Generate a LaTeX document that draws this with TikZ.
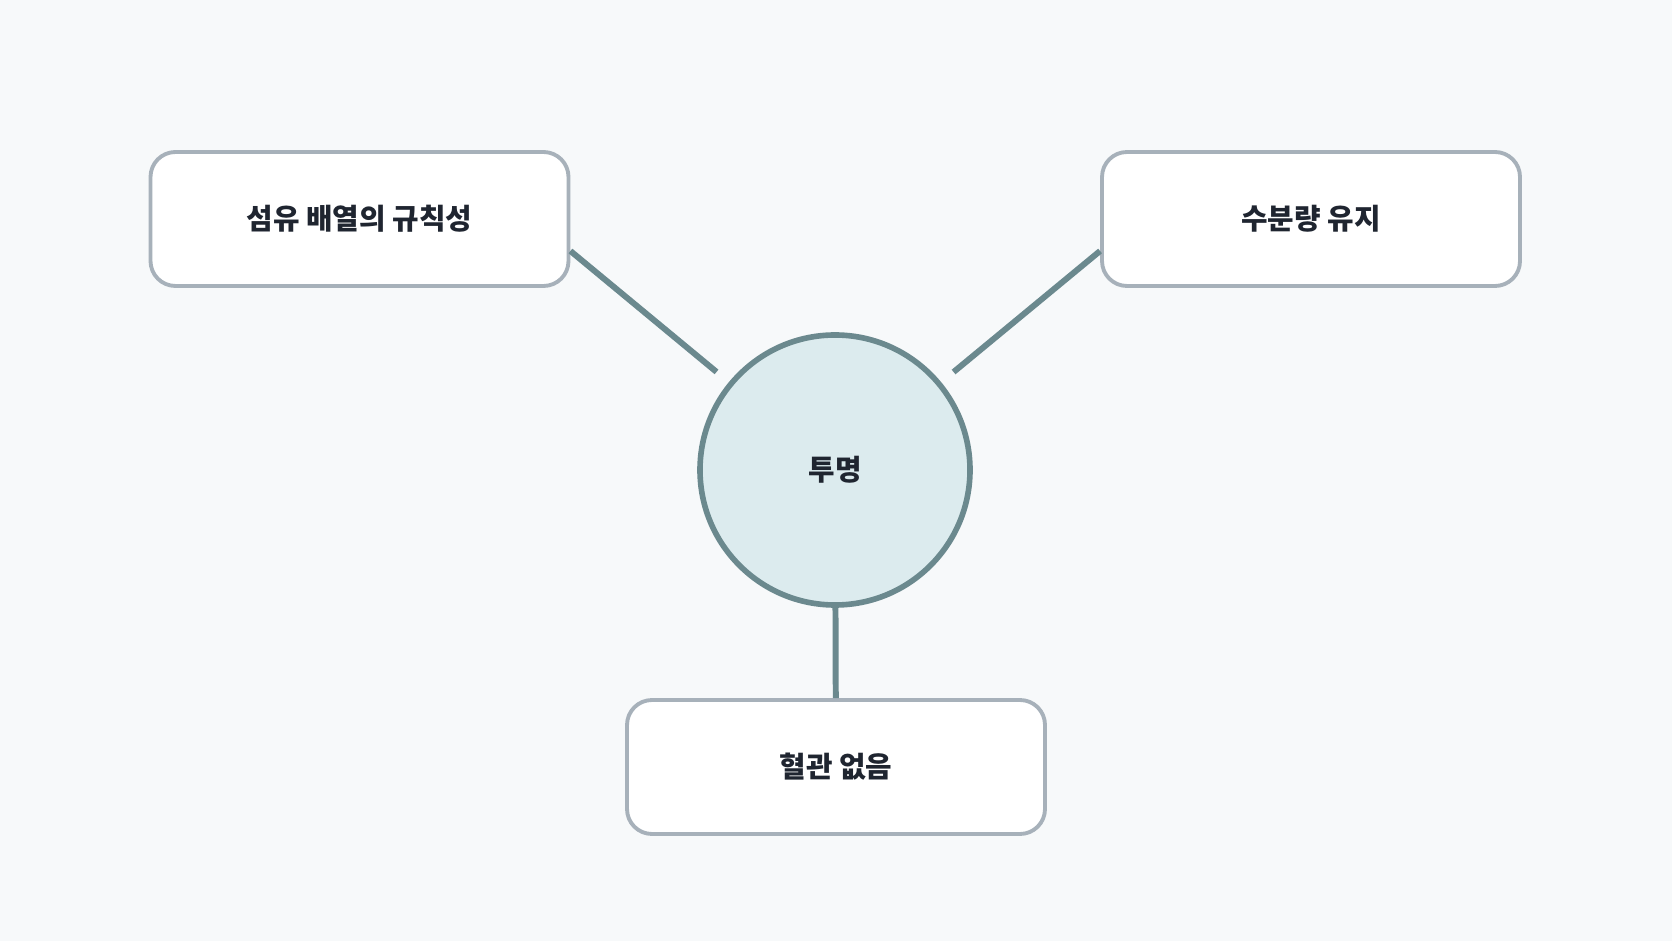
\documentclass[tikz,border=0pt]{standalone}
\usepackage{fontspec}
\newfontfamily\krfont{Noto Sans CJK KR}
\usetikzlibrary{positioning}
\definecolor{bgcol}{HTML}{F7F9FA}
\definecolor{boxline}{HTML}{A7B1BA}
\definecolor{linkcol}{HTML}{6B898E}
\definecolor{hubfill}{HTML}{DCEBEE}
\definecolor{txtcol}{HTML}{1F2530}
\tikzset{
	factor/.style={draw=boxline, line width=1.1pt, fill=white, rounded corners=0.25cm,
		minimum width=4.18cm, minimum height=1.34cm, font=\krfont\bfseries\fontsize{8.2}{10}\selectfont, text=txtcol},
	hub/.style={circle, draw=linkcol, line width=1.6pt, fill=hubfill, minimum size=2.7cm,
		font=\krfont\bfseries\fontsize{8.2}{10}\selectfont, text=txtcol},
	link/.style={draw=linkcol, line width=1.7pt}
}
\begin{document}
\begin{tikzpicture}
		%%%%% START %%%%%
		
		\fill[bgcol] (0, 0) rectangle (16.72, 9.41);
		\useasboundingbox (0, 0) rectangle (16.72, 9.41);
		
		\node[hub] (clear) at (8.35, 4.71) {투명};
		
		\node[factor] (fiber) at (3.595, 7.22) {섬유 배열의 규칙성};
		\node[factor] (water) at (13.11, 7.22) {수분량 유지};
		\node[factor] (vessel) at (8.36, 1.74) {혈관 없음};
		
		\draw[link, shorten >=0.16cm] ([yshift=-0.32cm]fiber.east) -- (clear);
		\draw[link, shorten >=0.16cm] ([yshift=-0.32cm]water.west) -- (clear);
		\draw[link] (clear) -- (vessel);
		
		%%%%% END %%%%%
	\end{tikzpicture}
\end{document}
